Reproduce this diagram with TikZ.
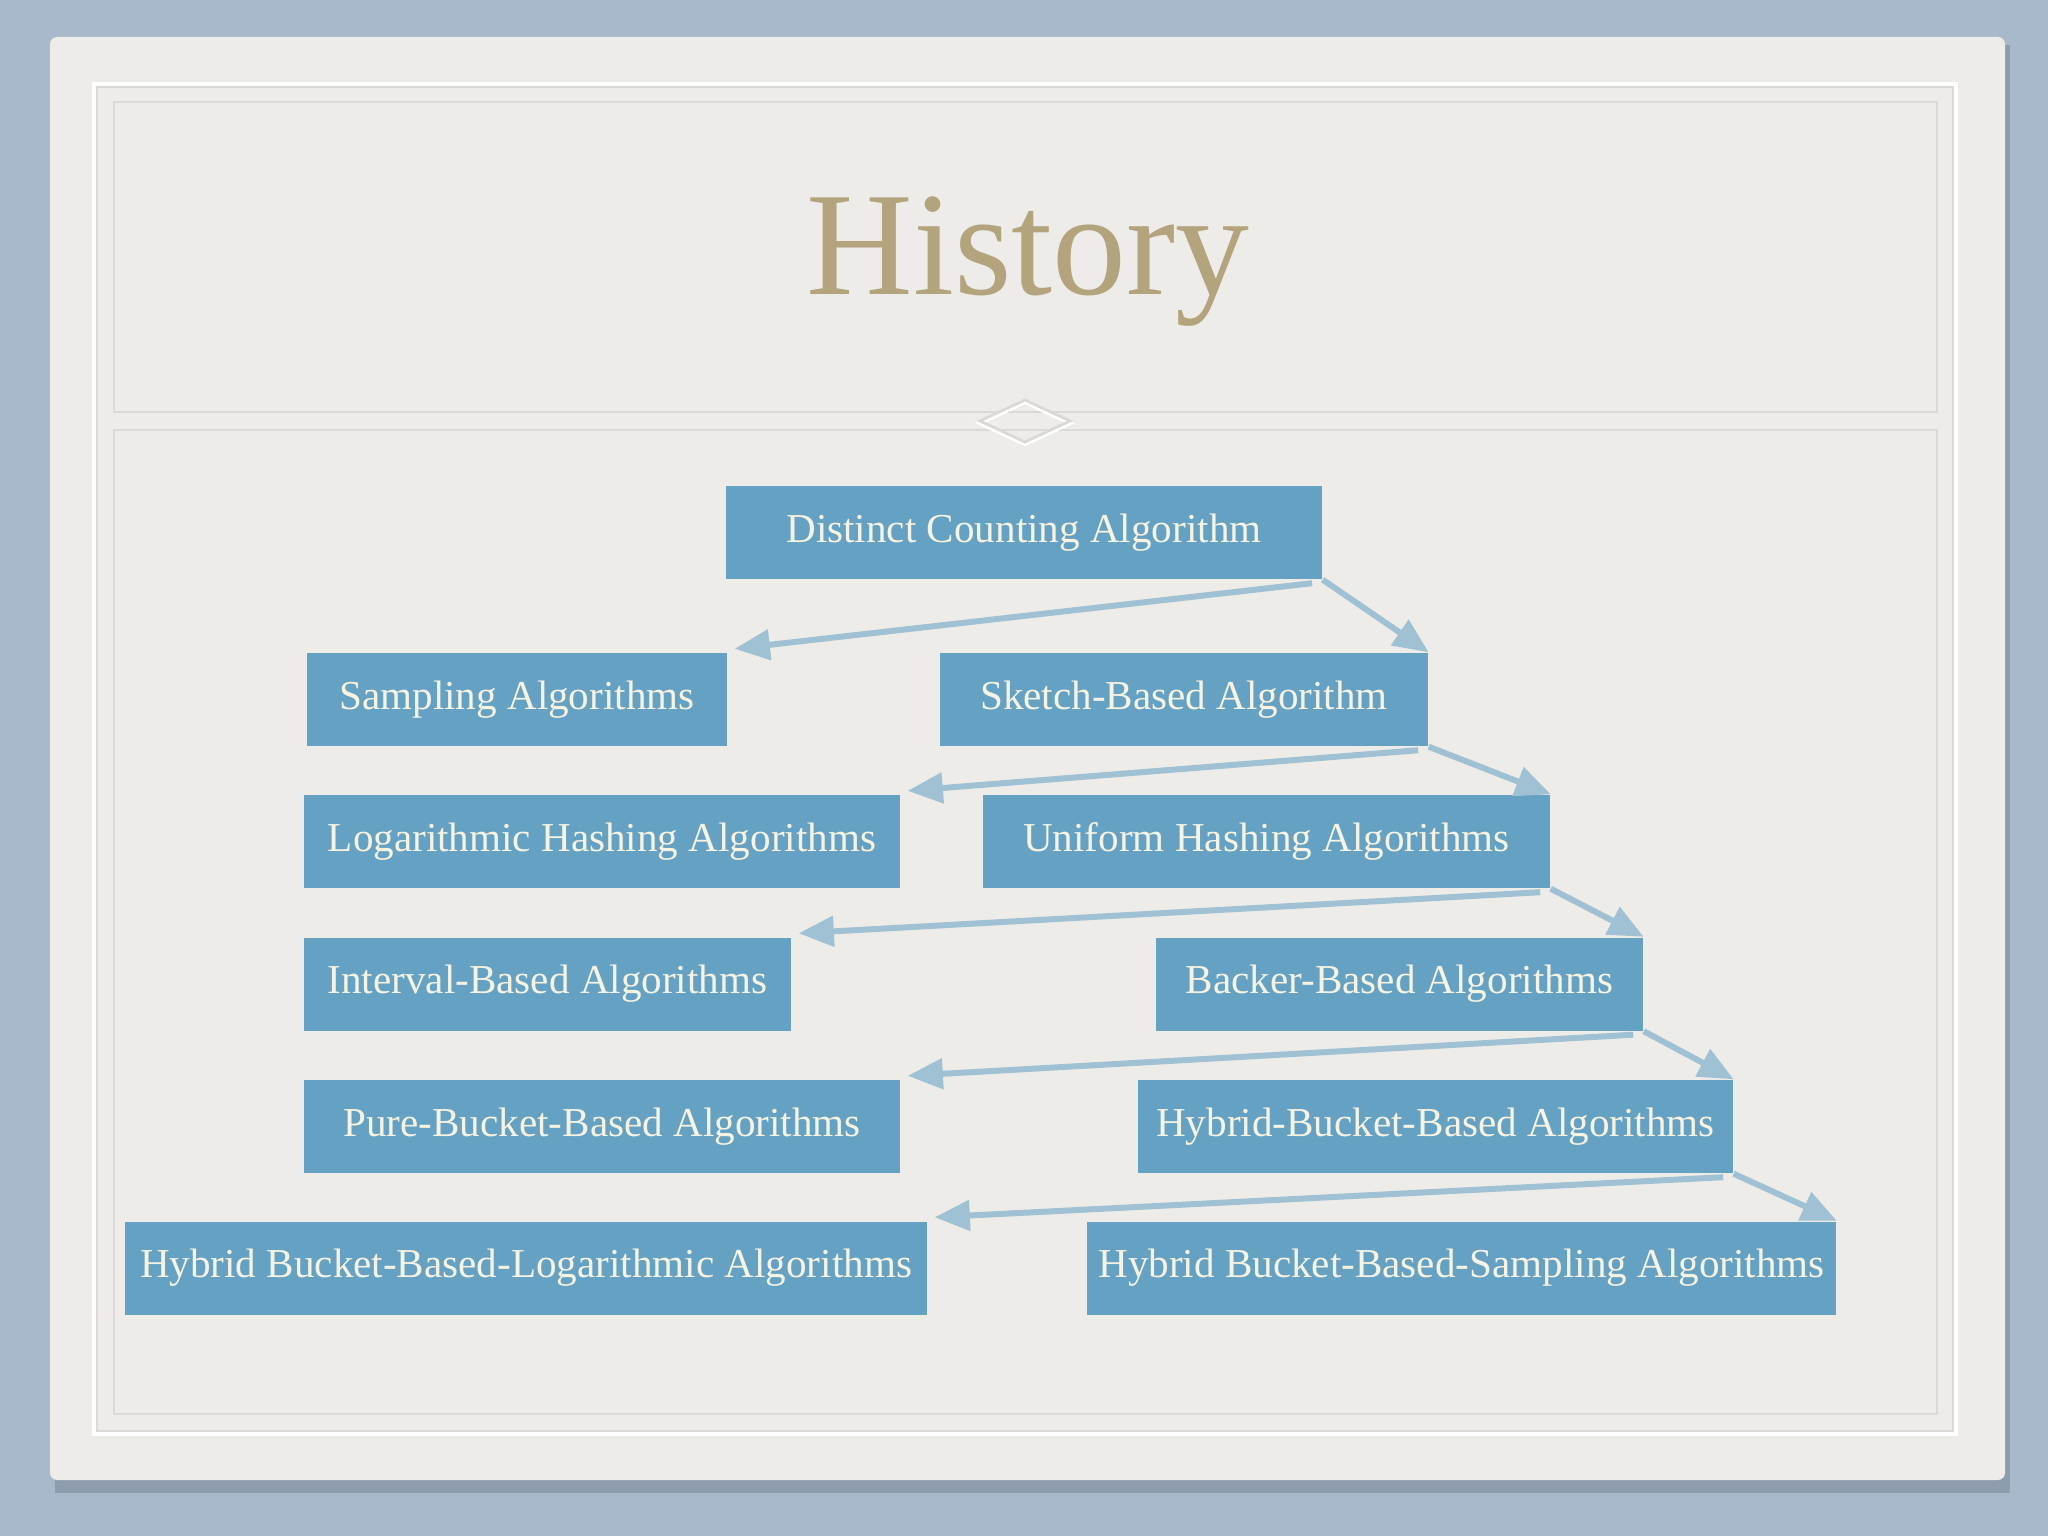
\documentclass[tikz,border=0pt]{standalone}
\usepackage{fontspec}
\setmainfont{Liberation Serif}
\usetikzlibrary{arrows.meta}
\definecolor{slateback}{HTML}{A8B9CC}
\definecolor{cardgrey}{HTML}{EDECE9}
\definecolor{embossline}{HTML}{DAD9D5}
\definecolor{boxblue}{HTML}{65A1C2}
\definecolor{boxtext}{HTML}{F6F3E3}
\definecolor{linkblue}{HTML}{A0C0D4}
\definecolor{titlegold}{HTML}{B3A47D}
\tikzset{algbox/.style={fill=boxblue, text=boxtext, minimum height=0.93cm, inner sep=0pt,
           font=\fontsize{11.7}{14}\selectfont},
         link/.style={linkblue, line width=1.7pt, -{Triangle[length=10pt,width=8.5pt]}},
         emboss/.style={embossline, line width=0.8pt}}

\begin{document}
\begin{tikzpicture}
   \useasboundingbox (0,0) rectangle (20.48,-15.36);
   \fill[slateback] (0,0) rectangle (20.48,-15.36);
   \fill[black!25!slateback, opacity=0.6] (0.55,-0.45) rectangle (20.1,-14.93);
   \fill[cardgrey, rounded corners=2pt] (0.5,-0.37) rectangle (20.05,-14.8);
   \begin{scope}
    \draw[white, line width=1.6pt] (0.95,-0.85) rectangle (19.55,-14.33);
    \draw[emboss] (0.97,-0.87) rectangle (19.53,-14.31);
    \draw[emboss] (1.14,-1.02) rectangle (19.37,-4.12);
    \draw[emboss] (1.14,-4.30) rectangle (19.37,-14.14);
    \draw[white, line width=1.2pt] (9.80,-4.23) -- (10.25,-4.02) -- (10.70,-4.23) -- (10.25,-4.44) -- cycle;
    \draw[emboss] (9.80,-4.21) -- (10.25,-4.00) -- (10.70,-4.21) -- (10.25,-4.42) -- cycle;
   \end{scope}
   \node[text=titlegold, font=\fontsize{42}{46}\selectfont] (title) at (10.28,-2.62) {History};

   \node[algbox, minimum width=5.96cm] (dca)      at (10.24,-5.325) {Distinct Counting Algorithm};
   \node[algbox, minimum width=4.20cm] (samp)     at (5.17,-6.995)  {Sampling Algorithms};
   \node[algbox, minimum width=4.88cm] (sketch)   at (11.84,-6.995) {Sketch-Based Algorithm};
   \node[algbox, minimum width=5.96cm] (loghash)  at (6.02,-8.415)  {Logarithmic Hashing Algorithms};
   \node[algbox, minimum width=5.67cm] (unihash)  at (12.665,-8.415) {Uniform Hashing Algorithms};
   \node[algbox, minimum width=4.87cm] (interval) at (5.475,-9.84)  {Interval-Based Algorithms};
   \node[algbox, minimum width=4.87cm] (backer)   at (13.995,-9.84) {Backer-Based Algorithms};
   \node[algbox, minimum width=5.96cm] (pure)     at (6.02,-11.265) {Pure-Bucket-Based Algorithms};
   \node[algbox, minimum width=5.95cm] (hybrid)   at (14.355,-11.265) {Hybrid-Bucket-Based Algorithms};
   \node[algbox, minimum width=8.02cm] (hbl)      at (5.26,-12.68)  {Hybrid Bucket-Based-Logarithmic Algorithms};
   \node[algbox, minimum width=7.49cm] (hbs)      at (14.615,-12.68) {Hybrid Bucket-Based-Sampling Algorithms};

   \draw[link] ([xshift=-3pt,yshift=-1pt]dca.south east) -- ([xshift=2pt,yshift=1pt]samp.north east);
   \draw[link] (dca.south east) -- (sketch.north east);
   \draw[link] ([xshift=-3pt,yshift=-1pt]sketch.south east) -- ([xshift=2pt,yshift=1pt]loghash.north east);
   \draw[link] (sketch.south east) -- (unihash.north east);
   \draw[link] ([xshift=-3pt,yshift=-1pt]unihash.south east) -- ([xshift=2pt,yshift=1pt]interval.north east);
   \draw[link] (unihash.south east) -- (backer.north east);
   \draw[link] ([xshift=-3pt,yshift=-1pt]backer.south east) -- ([xshift=2pt,yshift=1pt]pure.north east);
   \draw[link] (backer.south east) -- (hybrid.north east);
   \draw[link] ([xshift=-3pt,yshift=-1pt]hybrid.south east) -- ([xshift=2pt,yshift=1pt]hbl.north east);
   \draw[link] (hybrid.south east) -- (hbs.north east);
\end{tikzpicture}
\end{document}
